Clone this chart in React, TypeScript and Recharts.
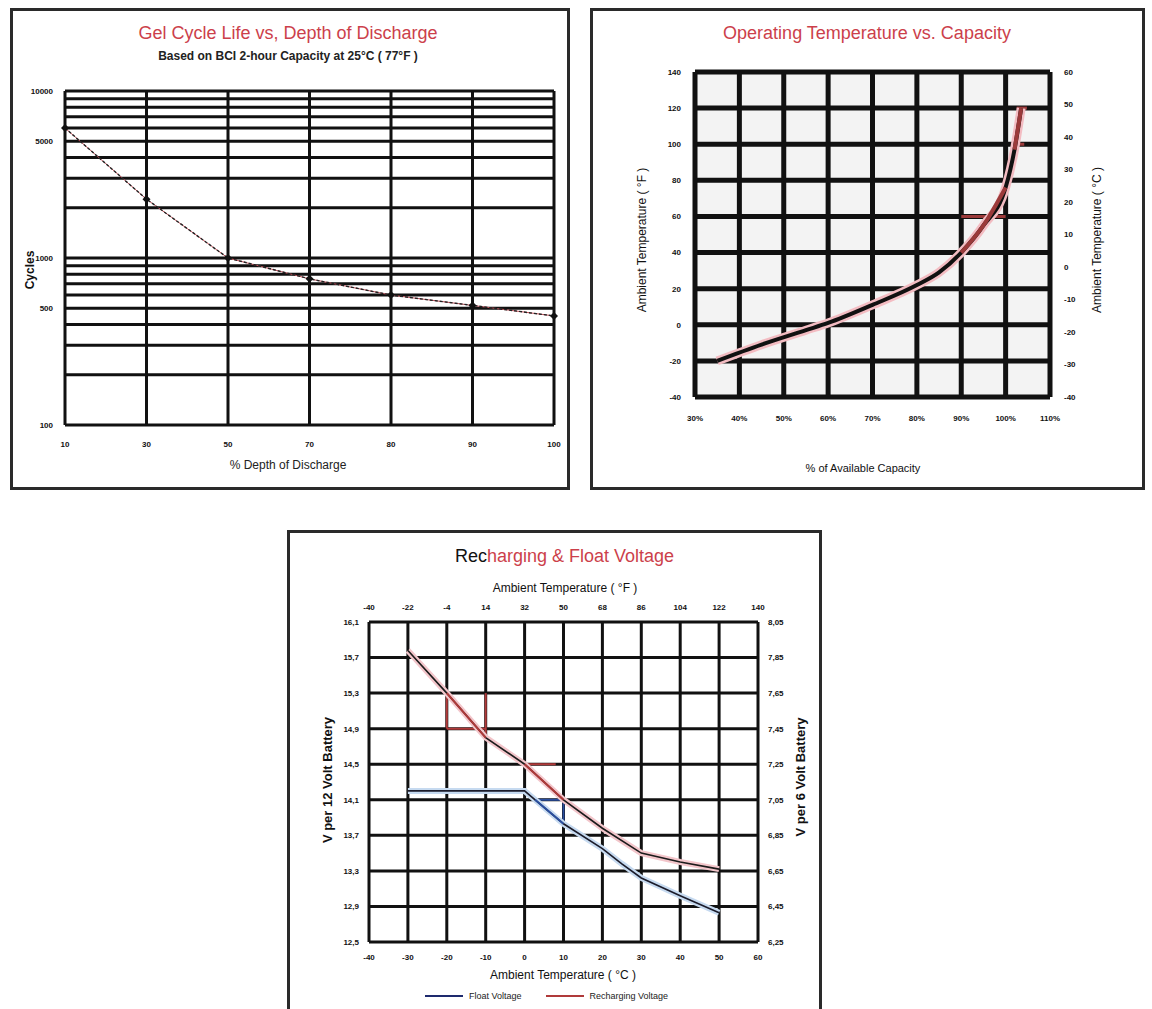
import React from 'react';
import { LineChart, Line, XAxis, YAxis, CartesianGrid, ReferenceLine } from 'recharts';

// --- Gel cycle life ---
const dodLabels = ['10', '30', '50', '70', '80', '90', '100'];
const cycles = [6000, 2250, 1000, 750, 600, 520, 450];
const cycleTicks = [100, 500, 1000, 5000, 10000];
const cycleGrid = [100, 200, 300, 400, 500, 600, 700, 800, 900, 1000, 2000, 3000, 4000, 5000, 6000, 7000, 8000, 9000, 10000];

// --- Operating temperature vs capacity ---
const capacity = [35, 45, 55, 60, 70, 80, 85, 90, 95, 100, 102, 103.5];
const tempF = [-20, -11, -3, 1, 11, 22, 29, 40, 55, 76, 97, 120];
const redRanges = [[90, 100], [102, 103.5]];
const capTicks = [30, 40, 50, 60, 70, 80, 90, 100, 110];
const tempFTicks = [-40, -20, 0, 20, 40, 60, 80, 100, 120, 140];
const tempCTicks = [-40, -30, -20, -10, 0, 10, 20, 30, 40, 50, 60];
const capGuides = [
  { y: 60, x1: 90, x2: 100 },
  { y: 100, x1: 101.5, x2: 104.2 },
  { y: 120, x1: 102.5, x2: 104.8 },
];

// --- Recharging & float voltage ---
const rechargeTempC = [-30, -20, -10, 0, 10, 20, 30, 40, 50];
const rechargeV = [15.78, 15.3, 14.8, 14.5, 14.1, 13.78, 13.5, 13.4, 13.32];
const floatTempC = [-30, -20, -10, 0, 2.7, 10, 20, 25, 30, 40, 50];
const floatV = [14.2, 14.2, 14.2, 14.2, 14.1, 13.83, 13.55, 13.38, 13.22, 13.02, 12.83];
const rechargeRed = [[-20, -10], [0, 10]];
const floatBlue = [[2.7, 10]];
const fTicks = [-40, -22, -4, 14, 32, 50, 68, 86, 104, 122, 140];
const cTicks = [-40, -30, -20, -10, 0, 10, 20, 30, 40, 50, 60];
const v12Ticks = [12.5, 12.9, 13.3, 13.7, 14.1, 14.5, 14.9, 15.3, 15.7, 16.1];
const v6Ticks = [6.25, 6.45, 6.65, 6.85, 7.05, 7.25, 7.45, 7.65, 7.85, 8.05];
const voltGuides = [
  { color: '#b03a3a', pts: [{ x: -20, y: 15.3 }, { x: -20, y: 14.9 }] },
  { color: '#b03a3a', pts: [{ x: -20, y: 14.9 }, { x: -10, y: 14.9 }] },
  { color: '#b03a3a', pts: [{ x: -10, y: 15.3 }, { x: -10, y: 14.8 }] },
  { color: '#b03a3a', pts: [{ x: 0, y: 14.5 }, { x: 8, y: 14.5 }] },
  { color: '#2a4fa0', pts: [{ x: 2.7, y: 14.1 }, { x: 10, y: 14.1 }] },
  { color: '#2a4fa0', pts: [{ x: 10, y: 14.1 }, { x: 10, y: 13.83 }] },
];

const FONT = '"Liberation Sans", Arial, sans-serif';
const TITLE_RED = '#cc3f4b';
const tickStyle = { fontSize: 8, fontWeight: 700, fill: '#111', fontFamily: FONT };

const cycleData = dodLabels.map((d, i) => ({ dod: d, cycles: cycles[i] }));
// same curve in °C, so the right-hand axis is tied to a series
const curve = capacity.map((c, i) => ({ cap: c, temp: tempF[i], tempC: ((tempF[i] - 32) * 5) / 9 }));
const redCurves = redRanges.map(([a, b]) => curve.filter((p) => p.cap >= a && p.cap <= b));
const rechargeData = rechargeTempC.map((t, i) => ({ t, v: rechargeV[i], tF: (t * 9) / 5 + 32, v6: rechargeV[i] / 2 }));
const floatData = floatTempC.map((t, i) => ({ t, v: floatV[i] }));
const pick = (data: { t: number; v: number }[], [a, b]: number[]) => data.filter((p) => p.t >= a && p.t <= b);

const comma = (v: number, d: number) => v.toFixed(d).replace('.', ',');

function Diamond(props: any) {
  const { cx, cy } = props;
  if (cx == null || cy == null) return null;
  return <path d={`M${cx},${cy - 4}L${cx + 4},${cy}L${cx},${cy + 4}L${cx - 4},${cy}Z`} fill="#111" />;
}

function Panel({ x, y, w, h, children }: any) {
  return (
    <div style={{ position: 'absolute', left: x, top: y, width: w, height: h, background: '#fff', fontFamily: FONT }}>
      {children}
      <div style={{ position: 'absolute', inset: 0, border: '3px solid #2a2a2a', boxSizing: 'border-box', pointerEvents: 'none' }} />
    </div>
  );
}

function Text({ x, y, size = 12, bold = false, color = '#111', children }: any) {
  return (
    <div style={{ position: 'absolute', left: x, top: y, transform: 'translate(-50%, -50%)', whiteSpace: 'nowrap', fontSize: size, fontWeight: bold ? 700 : 400, color }}>
      {children}
    </div>
  );
}

function VText({ x, y, size = 12, bold = false, children }: any) {
  return (
    <div style={{ position: 'absolute', left: x, top: y, transform: 'translate(-50%, -50%) rotate(-90deg)', whiteSpace: 'nowrap', fontSize: size, fontWeight: bold ? 700 : 400, color: '#111' }}>
      {children}
    </div>
  );
}

function CycleLife() {
  return (
    <Panel x={10} y={8} w={560} h={482}>
      <LineChart width={560} height={482} data={cycleData} margin={{ top: 83, right: 16, bottom: 35, left: 15 }}>
        <CartesianGrid horizontal={false} stroke="#111" strokeWidth={3} />
        {cycleGrid.map((v) => (
          <ReferenceLine key={v} y={v} stroke="#111" strokeWidth={3} />
        ))}
        <XAxis dataKey="dod" tick={tickStyle} tickLine={false} axisLine={false} tickMargin={10} height={30} />
        <YAxis type="number" scale="log" domain={[100, 10000]} ticks={cycleTicks} allowDataOverflow tick={tickStyle} tickLine={false} axisLine={false} width={40} tickMargin={6} />
        <Line dataKey="cycles" stroke="#c0505a" strokeWidth={1} dot={false} isAnimationActive={false} />
        <Line dataKey="cycles" stroke="#222" strokeWidth={1.4} strokeDasharray="3 2" dot={<Diamond />} isAnimationActive={false} />
      </LineChart>
      <Text x={278} y={25} size={18} color={TITLE_RED}>Gel Cycle Life vs, Depth of Discharge</Text>
      <Text x={278} y={48} size={12} bold color="#222">Based on BCI 2-hour Capacity at 25°C ( 77°F )</Text>
      <VText x={20} y={262} size={12} bold>Cycles</VText>
      <Text x={278} y={457} size={12} color="#222">% Depth of Discharge</Text>
    </Panel>
  );
}

function TempCapacity() {
  return (
    <Panel x={590} y={8} w={555} h={482}>
      <LineChart width={555} height={482} data={curve} margin={{ top: 64, right: 60, bottom: 63, left: 75 }}>
        <CartesianGrid stroke="#111" strokeWidth={5} fill="#f3f3f3" />
        <XAxis type="number" dataKey="cap" domain={[30, 110]} ticks={capTicks} tickFormatter={(v) => `${v}%`} tick={tickStyle} tickLine={false} axisLine={false} tickMargin={12} height={30} />
        <YAxis type="number" domain={[-40, 140]} ticks={tempFTicks} tick={tickStyle} tickLine={false} axisLine={false} width={30} tickMargin={8} />
        <YAxis yAxisId="c" orientation="right" type="number" domain={[-40, 60]} ticks={tempCTicks} tick={tickStyle} tickLine={false} axisLine={false} width={35} tickMargin={8} />
        {capGuides.map((g, i) => (
          <ReferenceLine key={i} segment={[{ x: g.x1, y: g.y }, { x: g.x2, y: g.y }]} stroke="#9b3a3a" strokeWidth={3} />
        ))}
        <Line yAxisId="c" dataKey="tempC" type="monotone" stroke="none" strokeWidth={0} dot={false} legendType="none" isAnimationActive={false} />
        <Line dataKey="temp" type="monotone" stroke="#f3bcc2" strokeWidth={9} dot={false} isAnimationActive={false} />
        <Line dataKey="temp" type="monotone" stroke="#111" strokeWidth={4} dot={false} isAnimationActive={false} />
        {redCurves.map((d, i) => (
          <Line key={i} data={d} dataKey="temp" type="monotone" stroke="#9b3a3a" strokeWidth={4} dot={false} isAnimationActive={false} />
        ))}
      </LineChart>
      <Text x={277} y={25} size={18} color={TITLE_RED}>Operating Temperature vs. Capacity</Text>
      <VText x={52} y={232} size={12}>Ambient Temperature ( °F )</VText>
      <VText x={507} y={232} size={12}>Ambient Temperature ( °C )</VText>
      <Text x={273} y={460} size={11}>% of Available Capacity</Text>
    </Panel>
  );
}

function Voltage() {
  return (
    <Panel x={287} y={530} w={535} h={490}>
      <LineChart width={535} height={490} margin={{ top: 72, right: 34, bottom: 58, left: 52 }}>
        <CartesianGrid stroke="#111" strokeWidth={3} />
        <XAxis type="number" dataKey="t" domain={[-40, 60]} ticks={cTicks} tick={tickStyle} tickLine={false} axisLine={false} tickMargin={6} height={20} />
        <XAxis xAxisId="f" orientation="top" type="number" dataKey="tF" domain={[-40, 140]} ticks={fTicks} tick={tickStyle} tickLine={false} axisLine={false} tickMargin={6} height={20} />
        <YAxis type="number" domain={[12.5, 16.1]} ticks={v12Ticks} tickFormatter={(v) => comma(v, 1)} tick={tickStyle} tickLine={false} axisLine={false} width={30} tickMargin={4} />
        <YAxis yAxisId="v6" orientation="right" type="number" domain={[6.25, 8.05]} ticks={v6Ticks} tickFormatter={(v) => comma(v, 2)} tick={tickStyle} tickLine={false} axisLine={false} width={30} tickMargin={4} />
        {voltGuides.map((g, i) => (
          <ReferenceLine key={i} segment={g.pts} stroke={g.color} strokeWidth={2} />
        ))}
        {/* recharge curve per 6 V battery against °F: keeps the top and right axes live */}
        <Line data={rechargeData} xAxisId="f" yAxisId="v6" dataKey="v6" stroke="none" strokeWidth={0} dot={false} legendType="none" isAnimationActive={false} />
        <Line data={floatData} dataKey="v" stroke="#c6daf0" strokeWidth={6} dot={false} isAnimationActive={false} />
        <Line data={rechargeData} dataKey="v" stroke="#f3c6cb" strokeWidth={6} dot={false} isAnimationActive={false} />
        <Line data={floatData} dataKey="v" stroke="#1b1b2a" strokeWidth={1.6} dot={false} isAnimationActive={false} />
        <Line data={rechargeData} dataKey="v" stroke="#1b1b1b" strokeWidth={1.6} dot={false} isAnimationActive={false} />
        {rechargeRed.map((r, i) => (
          <Line key={`r${i}`} data={pick(rechargeData, r)} dataKey="v" stroke="#b03a3a" strokeWidth={2} dot={false} isAnimationActive={false} />
        ))}
        {floatBlue.map((r, i) => (
          <Line key={`b${i}`} data={pick(floatData, r)} dataKey="v" stroke="#2a4fa0" strokeWidth={2} dot={false} isAnimationActive={false} />
        ))}
      </LineChart>
      <div style={{ position: 'absolute', left: 0, width: 535, top: 16, textAlign: 'center', fontSize: 18, color: TITLE_RED }}>
        <span style={{ position: 'relative', left: 10 }}><span style={{ color: '#111' }}>Rec</span>harging &amp; Float Voltage</span>
      </div>
      <Text x={278} y={58} size={12}>Ambient Temperature ( °F )</Text>
      <VText x={40} y={250} size={13} bold>V per 12 Volt Battery</VText>
      <VText x={513} y={247} size={13} bold>V per 6 Volt Battery</VText>
      <Text x={276} y={445} size={12}>Ambient Temperature ( °C )</Text>
      <div style={{ position: 'absolute', left: 138, top: 461, display: 'flex', alignItems: 'center', fontSize: 9, color: '#222' }}>
        <span style={{ display: 'inline-block', width: 38, height: 2, background: '#1e2a6e', marginRight: 6 }} />
        <span style={{ marginRight: 24 }}>Float Voltage</span>
        <span style={{ display: 'inline-block', width: 38, height: 2, background: '#b03a3a', marginRight: 6 }} />
        <span>Recharging Voltage</span>
      </div>
    </Panel>
  );
}

export default function App() {
  return (
    <div style={{ position: 'absolute', left: 0, top: 0, width: 1152, height: 1009, background: '#fff', overflow: 'hidden' }}>
      <CycleLife />
      <TempCapacity />
      <Voltage />
    </div>
  );
}
